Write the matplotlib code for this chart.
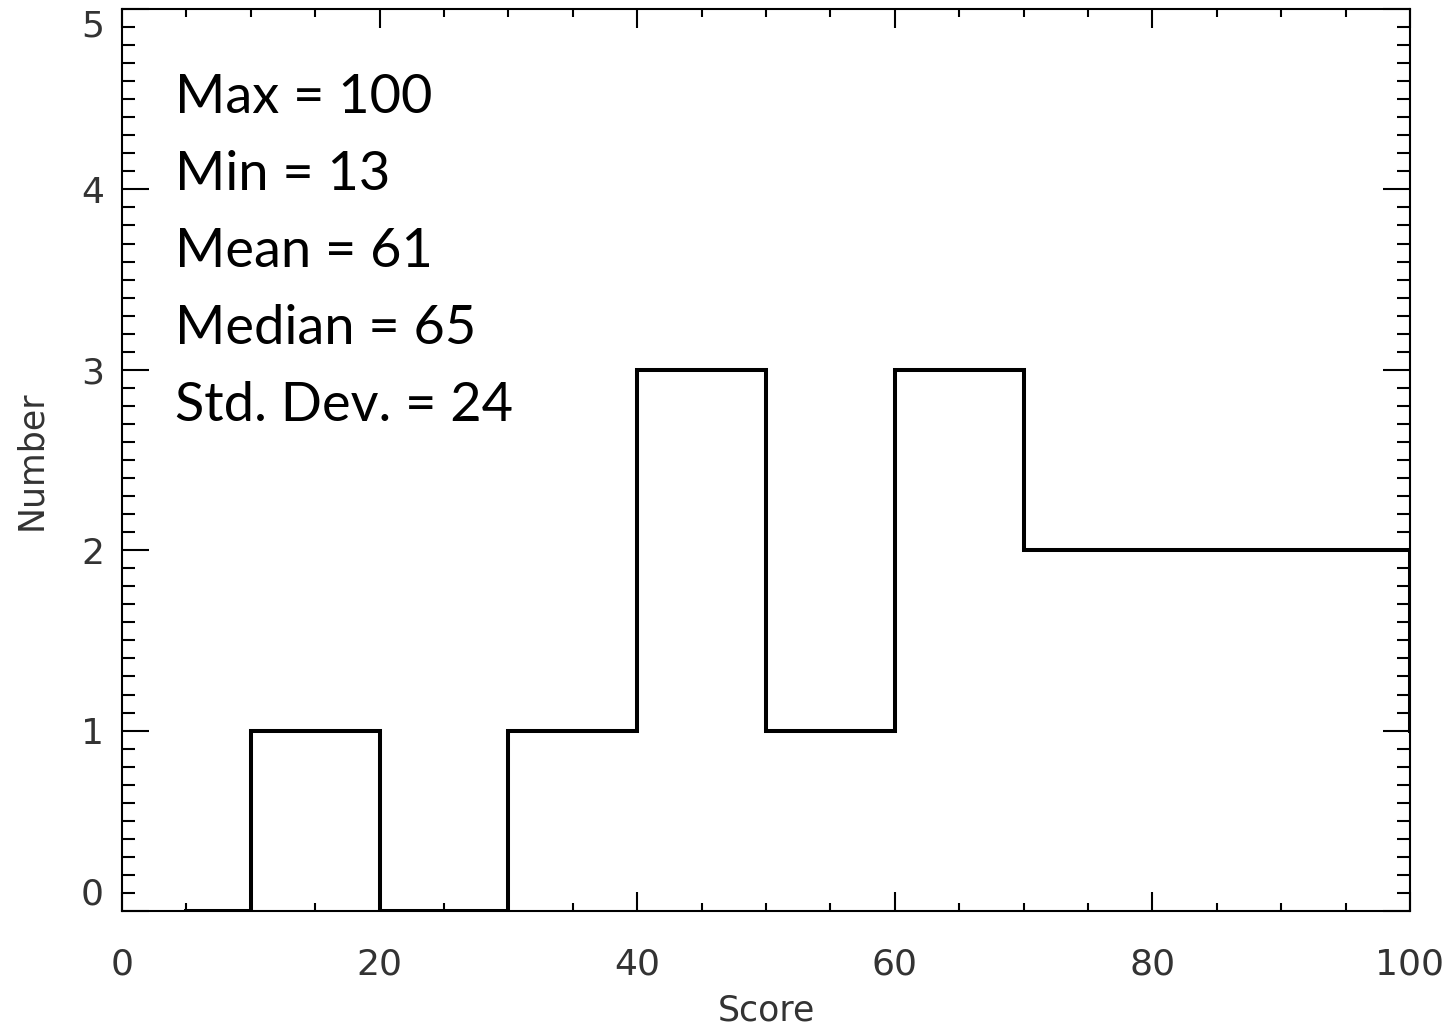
import matplotlib
matplotlib.use("Agg")
import matplotlib.pyplot as plt
from matplotlib.ticker import MultipleLocator

# histogram drawn IDL psym=10 style: steps centred on bin centres
bin_centers = [5, 15, 25, 35, 45, 55, 65, 75, 85, 95, 105]
counts = [0, 1, 0, 1, 3, 1, 3, 2, 2, 2, 1]

x_ticks = [0, 20, 40, 60, 80, 100]
y_ticks = [0, 1, 2, 3, 4, 5]

stats_lines = [
    "Max = 100",
    "Min = 13",
    "Mean = 61",
    "Median = 65",
    "Std. Dev. = 24",
]

plt.rcParams["font.family"] = ["DejaVu Sans"]

fig = plt.figure(figsize=(14.53, 10.35), dpi=100)
ax = fig.add_axes([0.084, 0.1198, 0.8864, 0.8715])

ax.step(bin_centers, counts, where="mid", color="black", linewidth=2.9,
        solid_joinstyle="miter")

ax.set_xlim(0, 100)
ax.set_ylim(0, 5)

for side in ax.spines.values():
    side.set_linewidth(1.5)

ax.set_xticks(x_ticks)
ax.set_yticks(y_ticks)
ax.xaxis.set_minor_locator(MultipleLocator(5))
ax.yaxis.set_minor_locator(MultipleLocator(0.1))

label_color = "#333333"
ax.tick_params(axis="x", which="both", direction="in", top=True, bottom=True,
               width=1.5, pad=26, labelsize=26, labelcolor=label_color)
ax.tick_params(axis="x", which="major", length=13.5)
ax.tick_params(axis="x", which="minor", length=5.8)
ax.tick_params(axis="y", which="both", direction="in", left=True, right=True,
               width=1.5, pad=13, labelsize=26, labelcolor=label_color)
ax.tick_params(axis="y", which="major", length=19.5)
ax.tick_params(axis="y", which="minor", length=9.4)

ax.set_xticklabels([str(v) for v in x_ticks])
ax.set_yticklabels([str(v) for v in y_ticks])
ylabels = ax.get_yticklabels()
ylabels[0].set_verticalalignment("bottom")
ylabels[-1].set_verticalalignment("top")

ax.set_xlabel("Score", fontsize=25, color=label_color, labelpad=9)
ax.set_ylabel("Number", fontsize=25, color=label_color, labelpad=24)

for i, line in enumerate(stats_lines):
    ax.text(175 / 1453, 1 - (113 + i * 77) / 1035, line, transform=fig.transFigure,
            family="Lato", fontsize=39, color="black", va="baseline", ha="left")

fig.savefig("out.png", dpi=100)
plt.close(fig)
